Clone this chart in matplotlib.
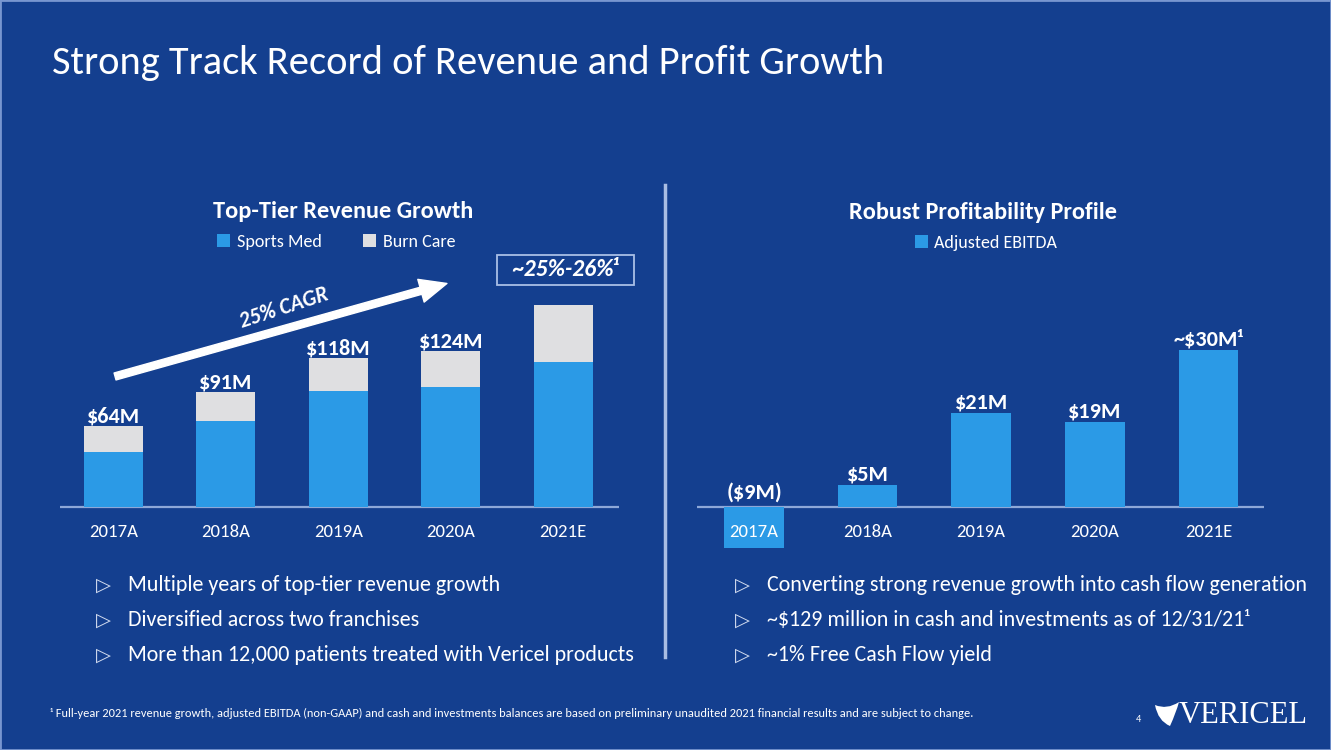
import matplotlib

matplotlib.use("Agg")
import matplotlib.pyplot as plt
from matplotlib import font_manager
from matplotlib.lines import Line2D
from matplotlib.patches import FancyArrowPatch, PathPatch, Rectangle
from matplotlib.path import Path

# ---- data ----
years = ["2017A", "2018A", "2019A", "2020A", "2021E"]
sports_med = [44, 68, 92, 95, 115]
burn_care = [20, 23, 26, 29, 45]
revenue_labels = ["$64M", "$91M", "$118M", "$124M", ""]
ebitda = [-9, 5, 21, 19, 35]
ebitda_labels = ["($9M)", "$5M", "$21M", "$19M", "~$30M\u00b9"]

left_bullets = [
    "Multiple years of top-tier revenue growth",
    "Diversified across two franchises",
    "More than 12,000 patients treated with Vericel products",
]
right_bullets = [
    "Converting strong revenue growth into cash flow generation",
    "~$129 million in cash and investments as of 12/31/21\u00b9",
    "~1% Free Cash Flow yield",
]
footnote = ("\u00b9 Full-year 2021 revenue growth, adjusted EBITDA (non-GAAP) and cash and investments "
            "balances are based on preliminary unaudited 2021 financial results and are subject to change.")

BG = "#143f8f"
BLUE = "#2b9ae6"
GREY = "#dfdfe1"
RULE = "#8ea8d8"

names = {f.name for f in font_manager.fontManager.ttflist}
base = "Carlito" if "Carlito" in names else "Lato"
plt.rcParams["font.family"] = [base, "DejaVu Sans"]

W, H = 1331, 750
fig = plt.figure(figsize=(W / 100, H / 100), dpi=100, facecolor=BG)


def fx(x):
    return x / W


def fy(y):
    return 1 - y / H


def chart_axes(x0, x1, k, xlim):
    # axes spans slide pixels y 250..515, baseline (zero) sits at y=507
    ax = fig.add_axes([fx(x0), fy(515), (x1 - x0) / W, 265 / H])
    ax.set_facecolor("none")
    ax.set_ylim(-(515 - 507) / k, (507 - 250) / k)
    ax.set_xlim(*xlim)
    for s in ax.spines.values():
        s.set_visible(False)
    ax.set_yticks([])
    ax.set_xticks(range(len(years)), years)
    ax.tick_params(axis="x", length=0, pad=6.5, labelcolor="white", labelsize=13.5)
    ax.axhline(0, color=RULE, lw=1.6, zorder=0.5)
    return ax


# ---- left: revenue ----
ax_l = chart_axes(60, 619, 1.26, (-0.476, 4.497))
b1 = ax_l.bar(range(5), sports_med, width=0.525, color=BLUE, label="Sports Med")
b2 = ax_l.bar(range(5), burn_care, width=0.525, bottom=sports_med, color=GREY, label="Burn Care")
for i, lab in enumerate(revenue_labels):
    if lab:
        ax_l.annotate(lab, (i, sports_med[i] + burn_care[i]), xytext=(0, 7), textcoords="offset points",
                      ha="center", va="center", color="white", fontsize=16, fontweight="bold")
ax_l.legend(handles=[b1, b2], loc="center", bbox_to_anchor=(fx(336), fy(242)), bbox_transform=fig.transFigure,
            ncol=2, frameon=False, handlelength=0.75, handleheight=0.75, handletextpad=0.35,
            columnspacing=2.3, labelcolor="white", fontsize=13)
fig.text(fx(343), fy(218), "Top-Tier Revenue Growth", ha="center", va="baseline", color="white",
         fontsize=17.5, fontweight="bold")

arrow = FancyArrowPatch((-0.01, 103), (2.99, 178), transform=ax_l.transData, clip_on=False,
                        arrowstyle="simple,head_length=0.97,head_width=0.85,tail_width=0.26",
                        mutation_scale=20, color="white", zorder=5)
ax_l.add_patch(arrow)
fig.text(fx(284), fy(308), "25% CAGR", ha="center", va="center", rotation=18, color="white",
         fontsize=15.5, fontweight="bold", style="italic")
fig.text(fx(566), fy(270), "~25%-26%\u00b9", ha="center", va="center", color="white", fontsize=17,
         fontweight="bold", style="italic")
fig.add_artist(Rectangle((fx(497), fy(285)), 137 / W, 30 / H, transform=fig.transFigure, fill=False,
                         edgecolor="#a9bfe6", lw=1.3))

# ---- right: adjusted EBITDA ----
ax_r = chart_axes(697, 1264, 4.5, (-0.502, 4.49))
b3 = ax_r.bar(range(5), ebitda, width=0.525, color=BLUE, label="Adjusted EBITDA", clip_on=False)
for i, lab in enumerate(ebitda_labels):
    ax_r.annotate(lab, (i, max(ebitda[i], 0)), xytext=(0, 7 if ebitda[i] > 0 else 10.5),
                  textcoords="offset points", ha="center", va="center", color="white",
                  fontsize=16, fontweight="bold")
ax_r.legend(handles=[b3], loc="center", bbox_to_anchor=(fx(986), fy(243)), bbox_transform=fig.transFigure,
            frameon=False, handlelength=0.75, handleheight=0.75, handletextpad=0.35,
            labelcolor="white", fontsize=13)
fig.text(fx(983), fy(219), "Robust Profitability Profile", ha="center", va="baseline", color="white",
         fontsize=17.5, fontweight="bold")

# ---- slide furniture ----
fig.text(fx(52), fy(74), "Strong Track Record of Revenue and Profit Growth", ha="left", va="baseline",
         color="white", fontsize=29.2)
fig.add_artist(Line2D([fx(665)] * 2, [fy(185), fy(657)], color="#a9bde3", lw=2.5))

for col_x, items in ((103, left_bullets), (742, right_bullets)):
    for j, txt in enumerate(items):
        y = 585 + 35 * j
        fig.text(fx(col_x), fy(y), "\u25b7", ha="center", va="center", color="#d4ddf0", fontsize=14,
                 family=["DejaVu Sans"])
        fig.text(fx(col_x + 25), fy(y), txt, ha="left", va="center", color="white", fontsize=15.8)

fig.text(fx(50), fy(717), footnote, ha="left", va="baseline", color="white", fontsize=8.9)
fig.text(fx(1138), fy(722), "4", ha="center", va="baseline", color="white", fontsize=7.5)
fig.text(fx(1179), fy(723), "VERICEL", ha="left", va="baseline", color="white", fontsize=22,
         family=["Liberation Serif", "DejaVu Serif"])
logo = Path([(fx(1155), fy(705)), (fx(1158), fy(721)), (fx(1170), fy(726)),
             (fx(1176), fy(713)), (fx(1179), fy(702)),
             (fx(1167), fy(710)), (fx(1155), fy(705))],
            [Path.MOVETO, Path.CURVE3, Path.CURVE3, Path.CURVE3, Path.CURVE3, Path.CURVE3, Path.CURVE3])
fig.add_artist(PathPatch(logo, transform=fig.transFigure, facecolor="white", edgecolor="none"))
fig.add_artist(Rectangle((0, 0), 1, 1, transform=fig.transFigure, fill=False, edgecolor="#7896d0", lw=2))

fig.savefig("out.png", dpi=100, facecolor=BG)
